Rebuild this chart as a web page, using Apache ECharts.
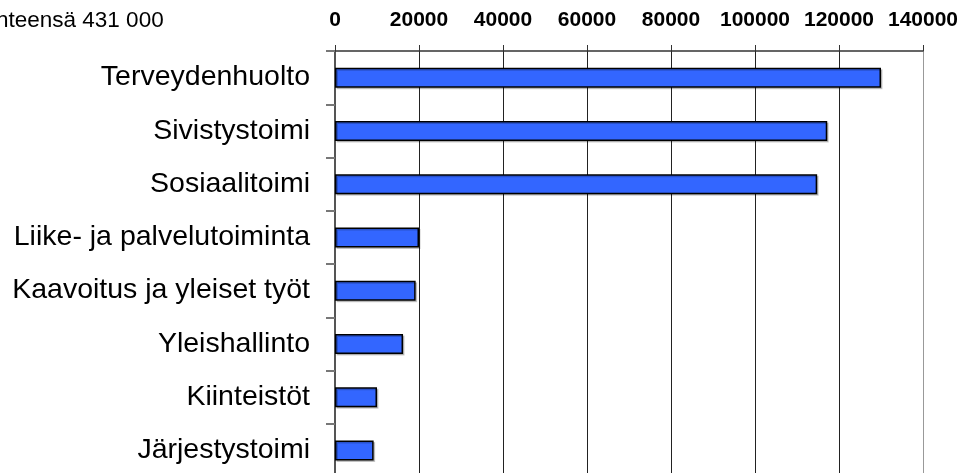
<!DOCTYPE html>
<html>
<head>
<meta charset="utf-8">
<title>Henkilöstö toimialoittain</title>
<script src="https://cdn.jsdelivr.net/npm/echarts@6/dist/echarts.min.js"></script>
<style>
  html, body { margin: 0; padding: 0; background: #fff; }
  #chart { width: 963px; height: 473px; }
</style>
</head>
<body>
<div id="chart"></div>
<script>
// Toimialat ylhäältä alas
const categories = [
  'Terveydenhuolto',
  'Sivistystoimi',
  'Sosiaalitoimi',
  'Liike- ja palvelutoiminta',
  'Kaavoitus ja yleiset työt',
  'Yleishallinto',
  'Kiinteistöt',
  'Järjestystoimi'
];
const values = [130000, 117200, 114800, 20000, 19200, 16200, 10000, 9200];
const totalLabel = 'Yhteensä 431 000';
const axisMax = 140000;
const axisStep = 20000;

const FONT = "'Liberation Sans', Arial, sans-serif";

const chart = echarts.init(document.getElementById('chart'), null, { renderer: 'canvas' });

chart.setOption({
  animation: false,
  backgroundColor: '#ffffff',
  title: {
    text: totalLabel,
    left: -19,
    top: 9,
    padding: 0,
    textStyle: { fontFamily: FONT, fontSize: 22.5, fontWeight: 'normal', color: '#000' }
  },
  grid: {
    left: 335,
    right: 40,
    top: 51,
    height: 426,
    containLabel: false,
    outerBoundsMode: 'none'
  },
  xAxis: {
    type: 'value',
    position: 'top',
    min: 0,
    max: axisMax,
    interval: axisStep,
    axisLine: { show: true, lineStyle: { color: '#333', width: 1.5 } },
    axisTick: { show: true, length: 6, inside: false, lineStyle: { color: '#333', width: 1 } },
    axisLabel: {
      margin: 20,
      fontFamily: FONT,
      fontSize: 21,
      fontWeight: 'bold',
      color: '#000',
      showMinLabel: true,
      showMaxLabel: true,
      formatter: (v) => String(v)
    },
    splitLine: {
      show: true,
      lineStyle: {
        color: ['#222', '#222', '#222', '#222', '#222', '#222', '#222', '#999'],
        width: 1
      }
    }
  },
  yAxis: {
    type: 'category',
    data: categories,
    inverse: true,
    axisLine: { show: true, lineStyle: { color: '#555', width: 2 } },
    axisTick: { show: true, length: 9, lineStyle: { color: '#777', width: 2 } },
    axisLabel: {
      margin: 25,
      fontFamily: FONT,
      fontSize: 28.5,
      color: '#000'
    },
    splitLine: { show: false }
  },
  series: [{
    type: 'bar',
    data: values,
    barWidth: 20,
    itemStyle: {
      color: '#3366FF',
      borderColor: '#000',
      borderWidth: 1.5,
      shadowColor: 'rgba(0,0,0,0.2)',
      shadowOffsetX: 1.5,
      shadowOffsetY: 1.5,
      shadowBlur: 0
    },
    emphasis: { disabled: true }
  }]
});
</script>
</body>
</html>
